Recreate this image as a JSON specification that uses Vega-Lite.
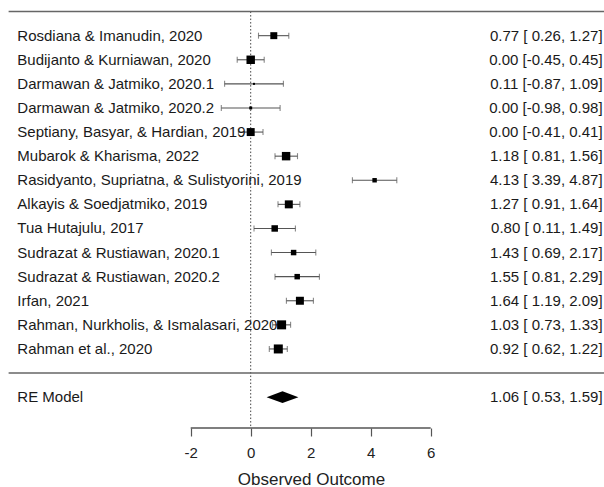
{
  "$schema": "https://vega.github.io/schema/vega-lite/v6.json",
  "width": 604,
  "height": 428,
  "padding": 0,
  "background": "white",
  "config": {"view": {"stroke": null}, "font": "Liberation Sans"},
  "data": {"values": [
    {"study": "Rosdiana & Imanudin, 2020", "est": 0.77, "lb": 0.26, "ub": 1.27, "ci": "0.77 [ 0.26, 1.27]", "weight": 7.5, "row": 14, "type": "study"},
    {"study": "Budijanto & Kurniawan, 2020", "est": 0.00, "lb": -0.45, "ub": 0.45, "ci": "0.00 [-0.45, 0.45]", "weight": 9.1, "row": 13, "type": "study"},
    {"study": "Darmawan & Jatmiko, 2020.1", "est": 0.11, "lb": -0.87, "ub": 1.09, "ci": "0.11 [-0.87, 1.09]", "weight": 2.2, "row": 12, "type": "study"},
    {"study": "Darmawan & Jatmiko, 2020.2", "est": 0.00, "lb": -0.98, "ub": 0.98, "ci": "0.00 [-0.98, 0.98]", "weight": 3.2, "row": 11, "type": "study"},
    {"study": "Septiany, Basyar, & Hardian, 2019", "est": 0.00, "lb": -0.41, "ub": 0.41, "ci": "0.00 [-0.41, 0.41]", "weight": 8.6, "row": 10, "type": "study"},
    {"study": "Mubarok & Kharisma, 2022", "est": 1.18, "lb": 0.81, "ub": 1.56, "ci": "1.18 [ 0.81, 1.56]", "weight": 9.1, "row": 9, "type": "study"},
    {"study": "Rasidyanto, Supriatna, & Sulistyorini, 2019", "est": 4.13, "lb": 3.39, "ub": 4.87, "ci": "4.13 [ 3.39, 4.87]", "weight": 4.8, "row": 8, "type": "study"},
    {"study": "Alkayis & Soedjatmiko, 2019", "est": 1.27, "lb": 0.91, "ub": 1.64, "ci": "1.27 [ 0.91, 1.64]", "weight": 8.6, "row": 7, "type": "study"},
    {"study": "Tua Hutajulu, 2017", "est": 0.80, "lb": 0.11, "ub": 1.49, "ci": "0.80 [ 0.11, 1.49]", "weight": 7.0, "row": 6, "type": "study"},
    {"study": "Sudrazat & Rustiawan, 2020.1", "est": 1.43, "lb": 0.69, "ub": 2.17, "ci": "1.43 [ 0.69, 2.17]", "weight": 5.9, "row": 5, "type": "study"},
    {"study": "Sudrazat & Rustiawan, 2020.2", "est": 1.55, "lb": 0.81, "ub": 2.29, "ci": "1.55 [ 0.81, 2.29]", "weight": 5.9, "row": 4, "type": "study"},
    {"study": "Irfan, 2021", "est": 1.64, "lb": 1.19, "ub": 2.09, "ci": "1.64 [ 1.19, 2.09]", "weight": 8.6, "row": 3, "type": "study"},
    {"study": "Rahman, Nurkholis, & Ismalasari, 2020", "est": 1.03, "lb": 0.73, "ub": 1.33, "ci": "1.03 [ 0.73, 1.33]", "weight": 9.7, "row": 2, "type": "study"},
    {"study": "Rahman et al., 2020", "est": 0.92, "lb": 0.62, "ub": 1.22, "ci": "0.92 [ 0.62, 1.22]", "weight": 9.7, "row": 1, "type": "study"},
    {"study": "RE Model", "est": 1.06, "lb": 0.53, "ub": 1.59, "ci": "1.06 [ 0.53, 1.59]", "weight": null, "row": -1, "type": "summary"}
  ]},
  "layer": [
    {
      "data": {"values": [{"a": 1}]},
      "mark": {"type": "rule", "color": "#444", "strokeWidth": 1, "strokeDash": [1.5, 2]},
      "encoding": {
        "x": {"datum": 0, "type": "quantitative", "scale": {"domain": [-8.357, 11.777], "nice": false, "zero": false},
          "axis": {"values": [-2, 0, 2, 4, 6], "labelExpr": "'' + datum.value", "domain": false, "grid": false, "tickColor": "#555", "tickSize": 8, "tickWidth": 1.2,
            "labelFont": "Liberation Sans", "labelFontSize": 15, "labelColor": "#222", "labelPadding": 9,
            "title": "Observed Outcome", "titleFont": "Liberation Sans", "titleFontSize": 17, "titleFontWeight": "normal", "titleColor": "#222", "titleX": 311, "titlePadding": 11}},
        "y": {"datum": 15, "type": "quantitative", "scale": {"domain": [-2.28, 15.48], "nice": false, "zero": false}, "axis": null},
        "y2": {"datum": -2.28}
      }
    },
    {
      "transform": [{"aggregate": [{"op": "count", "as": "n"}]}],
      "mark": {"type": "rule", "color": "#666", "strokeWidth": 1.6},
      "encoding": {"x": {"datum": -8.07, "type": "quantitative"}, "x2": {"datum": 11.777}, "y": {"datum": 15, "type": "quantitative"}}
    },
    {
      "transform": [{"aggregate": [{"op": "count", "as": "n"}]}],
      "mark": {"type": "rule", "color": "#666", "strokeWidth": 1.6},
      "encoding": {"x": {"datum": -8.07, "type": "quantitative"}, "x2": {"datum": 11.777}, "y": {"datum": 0, "type": "quantitative"}}
    },
    {
      "transform": [{"aggregate": [{"op": "count", "as": "n"}]}],
      "mark": {"type": "rule", "color": "#555", "strokeWidth": 1.3},
      "encoding": {"x": {"datum": -2, "type": "quantitative"}, "x2": {"datum": 6}, "y": {"datum": -2.28, "type": "quantitative"}}
    },
    {
      "transform": [{"filter": "datum.type === 'study'"}],
      "mark": {"type": "rule", "color": "#555", "strokeWidth": 1.1},
      "encoding": {"x": {"field": "lb", "type": "quantitative"}, "x2": {"field": "ub"}, "y": {"field": "row", "type": "quantitative"}}
    },
    {
      "transform": [{"filter": "datum.type === 'study'"}],
      "mark": {"type": "tick", "orient": "vertical", "color": "#555", "size": 6, "thickness": 1.1},
      "encoding": {"x": {"field": "lb", "type": "quantitative"}, "y": {"field": "row", "type": "quantitative"}}
    },
    {
      "transform": [{"filter": "datum.type === 'study'"}],
      "mark": {"type": "tick", "orient": "vertical", "color": "#555", "size": 6, "thickness": 1.1},
      "encoding": {"x": {"field": "ub", "type": "quantitative"}, "y": {"field": "row", "type": "quantitative"}}
    },
    {
      "transform": [{"filter": "datum.type === 'study'"}],
      "mark": {"type": "point", "shape": "square", "filled": true, "color": "black", "opacity": 1},
      "encoding": {
        "x": {"field": "est", "type": "quantitative"},
        "y": {"field": "row", "type": "quantitative"},
        "size": {"field": "weight", "type": "quantitative", "scale": {"type": "pow", "exponent": 2, "domain": [0, 9.7], "range": [0, 81]}, "legend": null}
      }
    },
    {
      "transform": [{"filter": "datum.type === 'summary'"}],
      "mark": {"type": "point", "shape": "M-1,0L0,-0.37L1,0L0,0.37Z", "filled": true, "color": "black", "opacity": 1, "size": 1011},
      "encoding": {"x": {"field": "est", "type": "quantitative"}, "y": {"field": "row", "type": "quantitative"}}
    },
    {
      "mark": {"type": "text", "align": "left", "baseline": "middle", "fontSize": 15, "color": "#1a1a1a", "font": "Liberation Sans"},
      "encoding": {"x": {"datum": -7.78, "type": "quantitative"}, "y": {"field": "row", "type": "quantitative"}, "text": {"field": "study"}}
    },
    {
      "mark": {"type": "text", "align": "right", "baseline": "middle", "fontSize": 15, "color": "#1a1a1a", "font": "Liberation Sans"},
      "encoding": {"x": {"datum": 11.73, "type": "quantitative"}, "y": {"field": "row", "type": "quantitative"}, "text": {"field": "ci"}}
    }
  ]
}
